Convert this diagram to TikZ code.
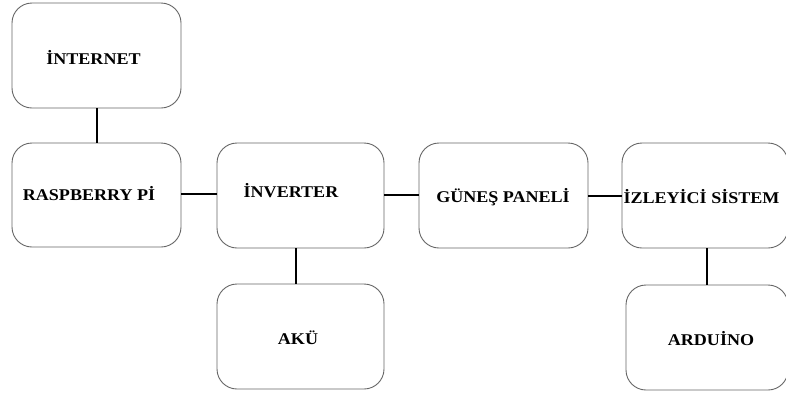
\documentclass[tikz,border=0pt]{standalone}
\usepackage{fontspec}
\newfontfamily\etiketfont[FakeStretch=1.1]{Liberation Serif}
\begin{document}
\begin{tikzpicture}[x=1pt,y=-1pt,
  blok/.style={draw=black!60, line width=0.9pt, rounded corners=20pt, inner sep=0pt},
  etiket/.style={font=\etiketfont\bfseries\fontsize{16.4}{19}\selectfont, inner sep=0pt, text=black},
  bag/.style={draw=black, line width=2pt}]
\useasboundingbox (0,0) rectangle (786,397);
\clip (0,0) rectangle (786,397);
\fill[white] (0,0) rectangle (786,397);
% boxes
\node[blok, minimum width=169pt, minimum height=105pt] (inet) at (96.5,55.5) {};
\node[blok, minimum width=169pt, minimum height=104pt] (rasp) at (96.5,195) {};
\node[blok, minimum width=167pt, minimum height=105pt] (inv) at (300.5,195.5) {};
\node[blok, minimum width=169pt, minimum height=105pt] (gun) at (503.5,195.5) {};
\node[blok, minimum width=166pt, minimum height=105pt] (izl) at (705,195.5) {};
\node[blok, minimum width=167pt, minimum height=105pt] (aku) at (300.5,336.5) {};
\node[blok, minimum width=162pt, minimum height=105pt] (ard) at (707,337.5) {};
% labels
\node[etiket] (tinet) at (93.5,57) {İNTERNET};
\node[etiket] (trasp) at (89,194) {RASPBERRY Pİ};
\node[etiket] (tinv) at (291,191) {İNVERTER};
\node[etiket] (tgun) at (503,197) {GÜNEŞ PANELİ};
\node[etiket] (tizl) at (701.5,197) {İZLEYİCİ SİSTEM};
\node[etiket] (taku) at (298,338) {AKÜ};
\node[etiket] (tard) at (711,339) {ARDUİNO};
% connectors
\draw[bag] (inet.south) -- (rasp.north);
\draw[bag] (rasp.east |- 0,194) -- (inv.west |- 0,194);
\draw[bag] (inv.east |- 0,195) -- (gun.west |- 0,195);
\draw[bag] (gun.east |- 0,196) -- (izl.west |- 0,196);
\draw[bag] (inv.south -| 296,0) -- (aku.north -| 296,0);
\draw[bag] (izl.south -| 707,0) -- (ard.north -| 707,0);
\end{tikzpicture}
\end{document}
